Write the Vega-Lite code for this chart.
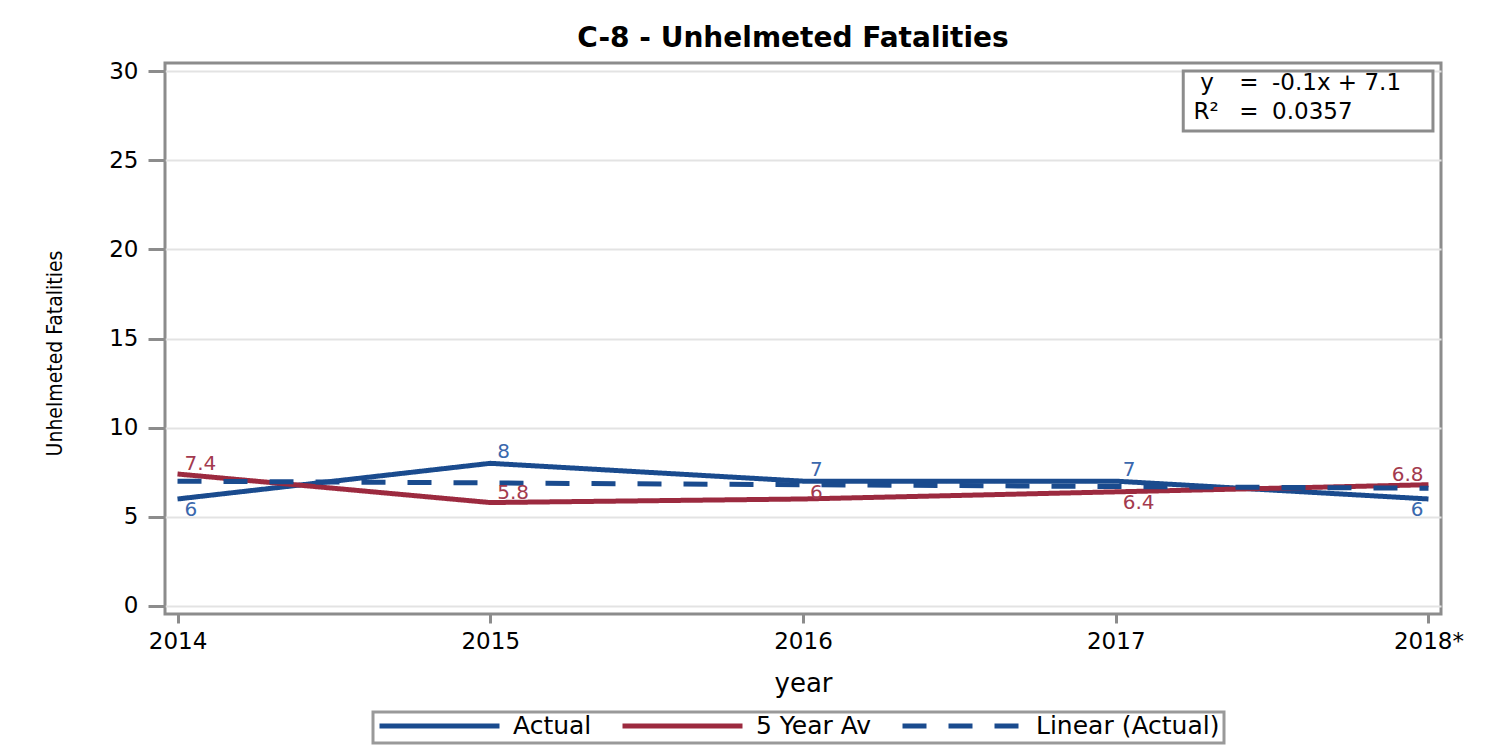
{
  "$schema": "https://vega.github.io/schema/vega-lite/v6.json",
  "autosize": {"type": "none"},
  "width": 1276,
  "height": 551,
  "padding": {"left": 165, "top": 63, "right": 60, "bottom": 142},
  "background": "white",
  "title": {"text": "C-8 - Unhelmeted Fatalities", "font": "DejaVu Sans", "fontSize": 28, "fontWeight": "bold", "color": "#000000", "anchor": "middle", "offset": 7, "dx": -10},
  "datasets": {
    "main": [
      {"year": "2014", "series": "Actual", "value": 6},
      {"year": "2015", "series": "Actual", "value": 8},
      {"year": "2016", "series": "Actual", "value": 7},
      {"year": "2017", "series": "Actual", "value": 7},
      {"year": "2018*", "series": "Actual", "value": 6},
      {"year": "2014", "series": "5 Year Av", "value": 7.4},
      {"year": "2015", "series": "5 Year Av", "value": 5.8},
      {"year": "2016", "series": "5 Year Av", "value": 6},
      {"year": "2017", "series": "5 Year Av", "value": 6.4},
      {"year": "2018*", "series": "5 Year Av", "value": 6.8},
      {"year": "2014", "series": "Linear (Actual)", "value": 7.0},
      {"year": "2015", "series": "Linear (Actual)", "value": 6.9},
      {"year": "2016", "series": "Linear (Actual)", "value": 6.8},
      {"year": "2017", "series": "Linear (Actual)", "value": 6.7},
      {"year": "2018*", "series": "Linear (Actual)", "value": 6.6}
    ]
  },
  "data": {"name": "main"},
  "layer": [
    {
      "layer": [
        {
          "mark": {"type": "line", "strokeCap": "butt"},
          "encoding": {
            "x": {"field": "year", "type": "ordinal", "sort": null, "scale": {"type": "point", "padding": 0.04},
              "axis": {"title": "year", "labelAngle": 0, "tickSize": 9, "labelPadding": 7, "titleFontSize": 26, "titleY": 69, "titleBaseline": "middle", "domain": false}},
            "y": {"field": "value", "type": "quantitative", "scale": {"domain": [-0.45, 30.45], "nice": false, "zero": false},
              "axis": {"title": "Unhelmeted Fatalities", "values": [0, 5, 10, 15, 20, 25, 30], "tickSize": 17, "labelPadding": 10, "grid": true, "domain": false,
                "titleFont": "Liberation Sans Narrow, DejaVu Sans Condensed, Liberation Sans", "titleFontSize": 21, "titleX": -110, "titleY": 290, "titleAlign": "center", "titleBaseline": "middle", "titleAngle": -90}},
            "color": {"field": "series", "type": "nominal", "scale": {"domain": ["Actual", "5 Year Av", "Linear (Actual)"], "range": ["#1a4b8e", "#9c2a3f", "#1a4b8e"]}, "legend": {"title": null}},
            "strokeDash": {"field": "series", "type": "nominal", "scale": {"domain": ["Actual", "5 Year Av", "Linear (Actual)"], "range": [[1, 0], [1, 0], [24, 22]]}, "legend": {"title": null}},
            "strokeWidth": {"field": "series", "type": "nominal", "scale": {"domain": ["Actual", "5 Year Av", "Linear (Actual)"], "range": [5, 5, 3.5]}, "legend": {"title": null}}
          }
        },
        {
          "transform": [{"filter": {"and": [{"field": "series", "equal": "Actual"}, {"field": "year", "oneOf": ["2015", "2016", "2017"]}]}}],
          "mark": {"type": "text", "align": "left", "baseline": "middle", "dx": 7, "dy": -11, "fontSize": 20, "font": "DejaVu Sans", "color": "#3a68ad"},
          "encoding": {"x": {"field": "year", "type": "ordinal", "sort": null}, "y": {"field": "value", "type": "quantitative"}, "text": {"field": "value"}}
        },
        {
          "transform": [{"filter": {"and": [{"field": "series", "equal": "Actual"}, {"field": "year", "equal": "2014"}]}}],
          "mark": {"type": "text", "align": "left", "baseline": "middle", "dx": 7, "dy": 11, "fontSize": 20, "font": "DejaVu Sans", "color": "#3a68ad"},
          "encoding": {"x": {"field": "year", "type": "ordinal", "sort": null}, "y": {"field": "value", "type": "quantitative"}, "text": {"field": "value"}}
        },
        {
          "transform": [{"filter": {"and": [{"field": "series", "equal": "Actual"}, {"field": "year", "equal": "2018*"}]}}],
          "mark": {"type": "text", "align": "right", "baseline": "middle", "dx": -5, "dy": 11, "fontSize": 20, "font": "DejaVu Sans", "color": "#3a68ad"},
          "encoding": {"x": {"field": "year", "type": "ordinal", "sort": null}, "y": {"field": "value", "type": "quantitative"}, "text": {"field": "value"}}
        },
        {
          "transform": [{"filter": {"and": [{"field": "series", "equal": "5 Year Av"}, {"field": "year", "oneOf": ["2014", "2015"]}]}}],
          "mark": {"type": "text", "align": "left", "baseline": "middle", "dx": 7, "dy": -10, "fontSize": 20, "font": "DejaVu Sans", "color": "#a33a4e"},
          "encoding": {"x": {"field": "year", "type": "ordinal", "sort": null}, "y": {"field": "value", "type": "quantitative"}, "text": {"field": "value"}}
        },
        {
          "transform": [{"filter": {"and": [{"field": "series", "equal": "5 Year Av"}, {"field": "year", "equal": "2016"}]}}],
          "mark": {"type": "text", "align": "left", "baseline": "middle", "dx": 7, "dy": -6, "fontSize": 20, "font": "DejaVu Sans", "color": "#a33a4e"},
          "encoding": {"x": {"field": "year", "type": "ordinal", "sort": null}, "y": {"field": "value", "type": "quantitative"}, "text": {"field": "value"}}
        },
        {
          "transform": [{"filter": {"and": [{"field": "series", "equal": "5 Year Av"}, {"field": "year", "equal": "2017"}]}}],
          "mark": {"type": "text", "align": "left", "baseline": "middle", "dx": 7, "dy": 11, "fontSize": 20, "font": "DejaVu Sans", "color": "#a33a4e"},
          "encoding": {"x": {"field": "year", "type": "ordinal", "sort": null}, "y": {"field": "value", "type": "quantitative"}, "text": {"field": "value"}}
        },
        {
          "transform": [{"filter": {"and": [{"field": "series", "equal": "5 Year Av"}, {"field": "year", "equal": "2018*"}]}}],
          "mark": {"type": "text", "align": "right", "baseline": "middle", "dx": -5, "dy": -10, "fontSize": 20, "font": "DejaVu Sans", "color": "#a33a4e"},
          "encoding": {"x": {"field": "year", "type": "ordinal", "sort": null}, "y": {"field": "value", "type": "quantitative"}, "text": {"field": "value"}}
        }
      ]
    },
    {
      "data": {"values": [{}]},
      "layer": [
        {
          "mark": {"type": "rect", "fill": "white", "stroke": "#8c8c8c", "strokeWidth": 3},
          "encoding": {
            "x": {"datum": 0.798, "type": "quantitative", "scale": {"domain": [0, 1], "nice": false, "zero": false}, "axis": null},
            "x2": {"datum": 0.9937},
            "y": {"datum": 30, "type": "quantitative"},
            "y2": {"datum": 26.64}
          }
        },
        {
          "mark": {"type": "text", "text": "y", "align": "center", "baseline": "middle", "fontSize": 23, "font": "DejaVu Sans", "color": "#000000"},
          "encoding": {"x": {"datum": 0.8166, "type": "quantitative", "axis": null}, "y": {"datum": 29.33, "type": "quantitative"}}
        },
        {
          "mark": {"type": "text", "text": "=", "align": "center", "baseline": "middle", "fontSize": 23, "font": "DejaVu Sans", "color": "#000000"},
          "encoding": {"x": {"datum": 0.8495, "type": "quantitative", "axis": null}, "y": {"datum": 29.33, "type": "quantitative"}}
        },
        {
          "mark": {"type": "text", "text": "-0.1x + 7.1", "align": "left", "baseline": "middle", "fontSize": 23, "font": "DejaVu Sans", "color": "#000000"},
          "encoding": {"x": {"datum": 0.8676, "type": "quantitative", "axis": null}, "y": {"datum": 29.33, "type": "quantitative"}}
        },
        {
          "mark": {"type": "text", "text": "R²", "align": "left", "baseline": "middle", "fontSize": 23, "font": "DejaVu Sans", "color": "#000000"},
          "encoding": {"x": {"datum": 0.806, "type": "quantitative", "axis": null}, "y": {"datum": 27.7, "type": "quantitative"}}
        },
        {
          "mark": {"type": "text", "text": "=", "align": "center", "baseline": "middle", "fontSize": 23, "font": "DejaVu Sans", "color": "#000000"},
          "encoding": {"x": {"datum": 0.8495, "type": "quantitative", "axis": null}, "y": {"datum": 27.7, "type": "quantitative"}}
        },
        {
          "mark": {"type": "text", "text": "0.0357", "align": "left", "baseline": "middle", "fontSize": 23, "font": "DejaVu Sans", "color": "#000000"},
          "encoding": {"x": {"datum": 0.8676, "type": "quantitative", "axis": null}, "y": {"datum": 27.7, "type": "quantitative"}}
        }
      ]
    }
  ],
  "resolve": {"scale": {"x": "independent"}},
  "config": {
    "view": {"stroke": "#8c8c8c", "strokeWidth": 3},
    "axis": {"labelFont": "DejaVu Sans", "labelFontSize": 23, "labelColor": "#000000", "titleFont": "DejaVu Sans", "titleColor": "#000000", "titleFontWeight": "normal",
      "tickColor": "#8c8c8c", "tickWidth": 3, "gridColor": "#e3e3e3", "gridWidth": 2},
    "legend": {"orient": "none", "legendX": 208, "legendY": 649, "direction": "horizontal", "symbolType": "stroke", "symbolSize": 14400, "symbolStrokeWidth": 5, "clipHeight": 20,
      "labelFont": "DejaVu Sans", "labelFontSize": 25, "labelColor": "#000000", "labelOffset": 11, "columnPadding": 28, "labelLimit": 400,
      "strokeColor": "#999999", "strokeWidth": 3, "padding": 4}
  }
}
